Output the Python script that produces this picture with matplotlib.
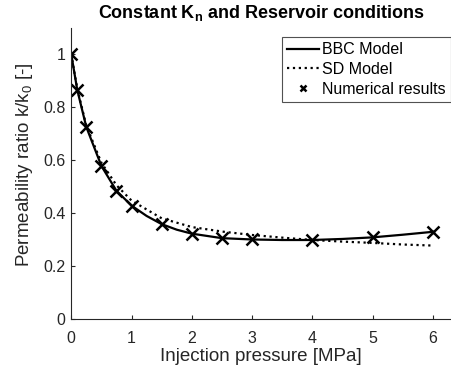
import matplotlib
matplotlib.use('Agg')
import matplotlib.pyplot as plt

plt.rcParams['font.family'] = ['Liberation Sans', 'DejaVu Sans']
plt.rcParams['mathtext.fontset'] = 'custom'
plt.rcParams['mathtext.rm'] = 'Liberation Sans'
plt.rcParams['mathtext.it'] = 'Liberation Sans'
plt.rcParams['mathtext.bf'] = 'Liberation Sans:bold'

# BBC model curve
bbc_p = [0, 0.1, 0.25, 0.5, 0.75, 1, 1.25, 1.5, 1.75, 2, 2.5, 3, 3.5, 4, 4.5, 5, 5.5, 6]
bbc_k = [1.0, 0.865, 0.725, 0.578, 0.484, 0.428, 0.389, 0.358, 0.337, 0.322,
         0.305, 0.300, 0.298, 0.298, 0.302, 0.308, 0.318, 0.329]

# SD model curve
sd_p = [0, 0.1, 0.25, 0.5, 0.75, 1, 1.5, 2, 2.5, 3, 3.5, 4, 4.5, 5, 5.5, 6]
sd_k = [1.0, 0.87, 0.73, 0.59, 0.505, 0.447, 0.38, 0.347, 0.330, 0.317,
        0.307, 0.298, 0.292, 0.287, 0.281, 0.277]

# numerical results
num_p = [0, 0.1, 0.25, 0.5, 0.75, 1, 1.5, 2, 2.5, 3, 4, 5, 6]
num_k = [1.0, 0.865, 0.725, 0.578, 0.484, 0.428, 0.358, 0.322, 0.304, 0.301,
         0.299, 0.308, 0.329]

fig = plt.figure(figsize=(4.51, 3.76), dpi=100)
ax = fig.add_axes([0.158, 0.152, 0.842, 0.774])

ax.plot(bbc_p, bbc_k, '-', color='k', lw=1.6, label='BBC Model')
ax.plot(sd_p, sd_k, ':', color='k', lw=1.6, label='SD Model')
ax.plot(num_p, num_k, 'x', color='k', ms=9, mew=1.8, label='Numerical results')

ax.set_xlim(0, 6.3)
ax.set_ylim(0, 1.1)
ax.set_xticks([0, 1, 2, 3, 4, 5, 6])
ax.set_yticks([0, 0.2, 0.4, 0.6, 0.8, 1])
ax.set_yticklabels(['0', '0.2', '0.4', '0.6', '0.8', '1'])

for s in ['top', 'right']:
    ax.spines[s].set_visible(False)
for s in ['left', 'bottom']:
    ax.spines[s].set_color('#262626')
    ax.spines[s].set_linewidth(0.8)
ax.tick_params(direction='in', length=3, width=0.8, colors='#262626',
               labelsize=11.5)
ax.tick_params(axis='x', pad=9)
ax.tick_params(axis='y', pad=4)

ax.set_xlabel('Injection pressure [MPa]', fontsize=13.5, color='#262626', labelpad=1)
ax.set_ylabel('Permeability ratio k/k$_0$ [-]', fontsize=13.5, color='#262626')
ax.yaxis.set_label_coords(-0.095, 0.53)
ax.set_title('Constant K$_\\mathbf{n}$ and Reservoir conditions', fontsize=13,
             fontweight='bold', pad=7)

leg = ax.legend(loc='upper right', bbox_to_anchor=(1.0, 0.97), fontsize=11.5,
                frameon=True, fancybox=False, borderpad=0.35, handlelength=2.0,
                handletextpad=0.15, labelspacing=0.3, borderaxespad=0.0,
                markerscale=0.5)
leg.get_frame().set_edgecolor('#262626')
leg.get_frame().set_linewidth(0.8)

fig.savefig('out.png', dpi=100)
